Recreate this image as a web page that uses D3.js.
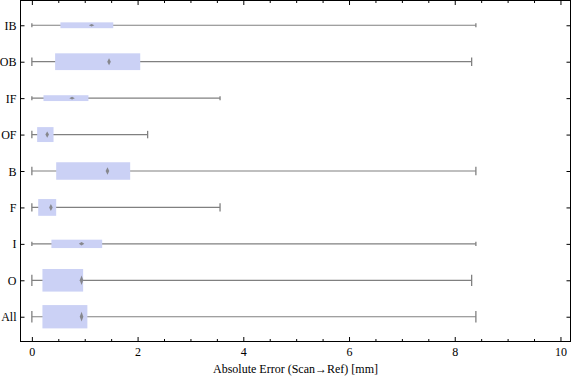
<!DOCTYPE html>
<html><head><meta charset="utf-8">
<script src="https://cdn.jsdelivr.net/npm/d3@7/dist/d3.min.js"></script>
<style>
html,body{margin:0;padding:0;background:#fff;}
svg text{font-family:"Liberation Serif","Times New Roman",serif;font-size:12px;fill:#000;}
</style></head>
<body>
<svg id="chart" width="576" height="381"></svg>
<script>
const categories = ["IB","OB","IF","OF","B","F","I","O","All"];
const minValues = [0,0,0,0,0,0,0,0,0];
const q1Values = [0.54,0.44,0.22,0.10,0.46,0.12,0.37,0.20,0.20];
const medianValues = [1.13,1.46,0.76,0.29,1.43,0.36,0.94,0.94,0.94];
const q3Values = [1.54,2.05,1.07,0.41,1.86,0.46,1.33,0.97,1.05];
const maxValues = [8.40,8.32,3.56,2.19,8.40,3.56,8.40,8.32,8.40];
const boxWidthFraction = [0.16,0.46,0.16,0.41,0.48,0.46,0.23,0.62,0.64];
const xTicks = [0,2,4,6,8,10];
const xMinorTicks = d3.range(0,10.01,0.5).filter(v=>Math.abs(v/2-Math.round(v/2))>1e-6);
const xTitle = "Absolute Error (Scan\u2192Ref) [mm]";

const L=20.5,R=570.5,T=0.5,B=341.5;
const svg=d3.select("#chart");
const x=d3.scaleLinear().domain([-0.215,10.19]).range([L,R]);
const y=d3.scalePoint().domain(categories).range([T,B]).padding(0.68);
const step=y.step();

const data=categories.map((c,i)=>({c,min:minValues[i],q1:q1Values[i],med:medianValues[i],q3:q3Values[i],max:maxValues[i],f:boxWidthFraction[i]}));

const boxColor="#cbd1f5", wColor="#808080";
const g=svg.append("g");
data.forEach(d=>{
  const cy=y(d.c), h=d.f*step, cap=Math.max(4,h*0.5);
  g.append("line").attr("x1",x(d.min)).attr("x2",x(d.max)).attr("y1",cy).attr("y2",cy)
    .attr("stroke",wColor).attr("stroke-width",1.2);
  [d.min,d.max].forEach(v=>g.append("line").attr("x1",x(v)).attr("x2",x(v))
    .attr("y1",cy-cap/2).attr("y2",cy+cap/2).attr("stroke",wColor).attr("stroke-width",1.3));
  g.append("rect").attr("x",x(d.q1)).attr("width",x(d.q3)-x(d.q1))
    .attr("y",cy-h/2).attr("height",h).attr("fill",boxColor);
  const mh=Math.max(2.6,h*0.42), mw=h<10?5.5:3.6;
  const mx=x(d.med);
  g.append("path").attr("d",`M${mx-mw/2},${cy}L${mx},${cy-mh/2}L${mx+mw/2},${cy}L${mx},${cy+mh/2}Z`)
    .attr("fill","#7a7a7a").attr("opacity",0.85);
});

// frame
svg.append("rect").attr("x",L).attr("y",T).attr("width",R-L).attr("height",B-T)
  .attr("fill","none").attr("stroke","#000").attr("stroke-width",1);

function strip(sel){sel.select(".domain").remove();sel.selectAll(".tick line").attr("stroke","#000");}
const bx=svg.append("g").attr("transform",`translate(0,${B})`)
  .call(d3.axisBottom(x).tickValues(xTicks).tickFormat(d3.format("d")).tickSize(-4.5).tickSizeOuter(0).tickPadding(5.5));
strip(bx);
bx.selectAll("text").style("font-family",'"Liberation Serif",serif').style("font-size","12px");
const bxm=svg.append("g").attr("transform",`translate(0,${B})`)
  .call(d3.axisBottom(x).tickValues(xMinorTicks).tickFormat("").tickSize(-2.5).tickSizeOuter(0));
strip(bxm);
const tx=svg.append("g").attr("transform",`translate(0,${T})`)
  .call(d3.axisTop(x).tickValues(xTicks).tickFormat("").tickSize(-4.5).tickSizeOuter(0));
strip(tx);
const txm=svg.append("g").attr("transform",`translate(0,${T})`)
  .call(d3.axisTop(x).tickValues(xMinorTicks).tickFormat("").tickSize(-2.5).tickSizeOuter(0));
strip(txm);
const ly=svg.append("g").attr("transform",`translate(${L},0)`)
  .call(d3.axisLeft(y).tickSize(-4).tickSizeOuter(0).tickPadding(4));
strip(ly);
ly.selectAll("text").style("font-family",'"Liberation Serif",serif').style("font-size","12px").attr("dy","0.34em");
const ry=svg.append("g").attr("transform",`translate(${R},0)`)
  .call(d3.axisRight(y).tickSize(-4).tickSizeOuter(0).tickFormat(""));
strip(ry);

svg.append("text").attr("x",(L+R)/2).attr("y",373).attr("text-anchor","middle").text(xTitle);
</script>
</body></html>
